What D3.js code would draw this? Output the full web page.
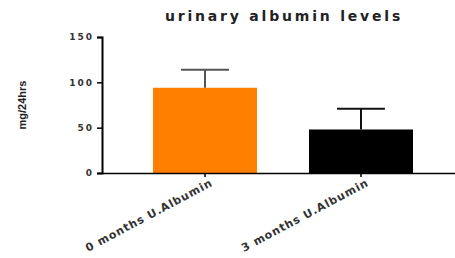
<!DOCTYPE html>
<head>
<meta charset="utf-8">
<title>urinary albumin levels</title>
<script src="https://d3js.org/d3.v7.min.js"></script>
<style>
  body { margin: 0; background: #fff; }
</style>
</head>
<body>
<div id="chart"></div>
<script>

var categories = ["0 months U.Albumin", "3 months U.Albumin"];
var means = [94, 48];
var errTop = [114, 71];
var barColors = ["#ff8000", "#000000"];
var errColors = ["#555555", "#111111"];
var yTicks = [0, 50, 100, 150];

var W = 455, H = 258;
var margin = {top: 37, left: 102, bottom: 85};

var svg = d3.select("#chart")
  .append("svg")
    .attr("width", W)
    .attr("height", H);

var x = d3.scaleBand()
  .domain(categories)
  .range([margin.left, 464])
  .paddingInner(0.333)
  .paddingOuter(0.327);

var y = d3.scaleLinear()
  .domain([0, 150])
  .range([H - margin.bottom, margin.top]);

// title
svg.append("text")
  .attr("x", 284)
  .attr("y", 21)
  .attr("text-anchor", "middle")
  .style("font-family", "DejaVu Sans")
  .style("font-weight", "bold")
  .style("font-size", "14px")
  .style("letter-spacing", "2.8px")
  .style("fill", "#222")
  .text("urinary albumin levels");

// y label
svg.append("text")
  .attr("transform", "translate(26,105)rotate(-90)")
  .attr("text-anchor", "middle")
  .style("font-family", "Liberation Sans Narrow, Liberation Sans")
  .style("font-weight", "bold")
  .style("font-size", "11px")
  .style("fill", "#222")
  .text("mg/24hrs");

// bars
svg.selectAll("rect.bar")
  .data(categories)
  .enter()
  .append("rect")
    .attr("class", "bar")
    .attr("x", function(d) { return x(d); })
    .attr("y", function(d, i) { return y(means[i]); })
    .attr("width", x.bandwidth())
    .attr("height", function(d, i) { return y(0) - y(means[i]); })
    .attr("fill", function(d, i) { return barColors[i]; });

// error bars
var capW = x.bandwidth() * 0.46;
categories.forEach(function(d, i) {
  var cx = x(d) + x.bandwidth() / 2;
  svg.append("line")
    .attr("x1", cx).attr("x2", cx)
    .attr("y1", y(means[i])).attr("y2", y(errTop[i]))
    .style("stroke", errColors[i])
    .style("stroke-width", 2);
  svg.append("line")
    .attr("x1", cx - capW / 2).attr("x2", cx + capW / 2)
    .attr("y1", y(errTop[i])).attr("y2", y(errTop[i]))
    .style("stroke", errColors[i])
    .style("stroke-width", 2);
});

// y axis
var yAxis = svg.append("g")
  .attr("transform", "translate(" + margin.left + ",0)")
  .call(d3.axisLeft(y).tickValues(yTicks).tickSize(5).tickPadding(3));
yAxis.select(".domain").style("stroke-width", 2);
yAxis.selectAll("line").style("stroke-width", 1.5);
yAxis.selectAll("text")
  .style("font-family", "DejaVu Sans")
  .style("font-weight", "bold")
  .style("font-size", "9px")
  .style("letter-spacing", "2px")
  .style("fill", "#333");

// x axis
var xAxis = svg.append("g")
  .attr("transform", "translate(0," + y(0) + ")")
  .call(d3.axisBottom(x).tickSize(4).tickSizeOuter(0).tickPadding(6));
xAxis.select(".domain").style("stroke-width", 1.5);
xAxis.selectAll("line").style("stroke-width", 1.5);
xAxis.selectAll("text")
  .attr("transform", "translate(2,0)rotate(-28)")
  .attr("dy", "0.35em")
  .style("text-anchor", "end")
  .style("font-family", "DejaVu Sans")
  .style("font-weight", "bold")
  .style("font-size", "11px")
  .style("letter-spacing", "0.9px")
  .style("fill", "#333");

</script>
</body>
</html>
